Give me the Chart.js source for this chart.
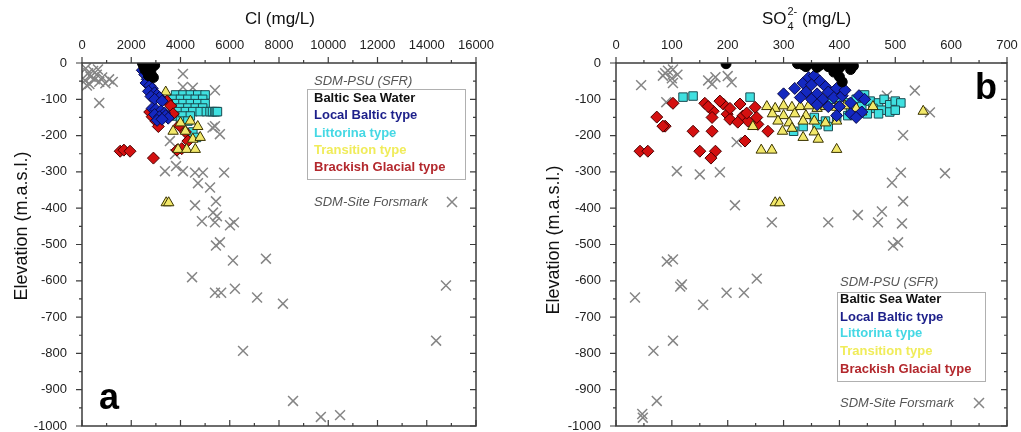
<!DOCTYPE html>
<html>
<head>
<meta charset="utf-8">
<script src="https://cdn.jsdelivr.net/npm/chart.js@4.4.1/dist/chart.umd.min.js"></script>
<style>
    html, body { margin: 0; padding: 0; background: #fff; }
    #wrap { position: relative; width: 1021px; height: 432px; overflow: hidden; }
    .panel { position: absolute; top: 0; height: 432px; }
</style>
</head>
<body>
<div id="wrap">
    <div class="panel" style="left:0;width:510px"><canvas id="chartCl" width="510" height="432"></canvas></div>
    <div class="panel" style="left:510px;width:511px"><canvas id="chartSO4" width="511" height="432"></canvas></div>
</div>
<script>
// ---- Cl (mg/L) vs elevation ----
const clBaltic = [[2450,0],[2600,-2],[2750,-1],[2900,-3],[2950,-6],[2500,-8],[2700,-10],[2850,-12],[2600,-15],[2550,-18],[2750,-20],[2650,-25],[2800,-28],[2700,-35],[2900,-40]];
const clLocal = [[2450,-20],[2550,-32],[2650,-45],[2600,-55],[2750,-62],[2850,-70],[2700,-78],[2950,-82],[3050,-88],[2800,-92],[3150,-95],[2950,-100],[3250,-105],[2850,-125],[3000,-128],[3200,-132],[3350,-138],[2950,-142],[3150,-148],[3400,-145],[3500,-152],[3050,-158],[3250,-155]];
const clLittorina = [[3800,-88],[4100,-88],[4400,-88],[4700,-88],[5000,-88],[3700,-100],[4000,-100],[4300,-100],[4600,-100],[4900,-100],
    [3800,-112],[4100,-112],[4400,-112],[4700,-112],[5000,-112],[3700,-124],[4000,-124],[4300,-124],[4600,-124],[4900,-124],
    [3900,-134],[4200,-134],[4500,-134],[4800,-134],[5050,-134],[5200,-134],[5300,-134],[5400,-134],[5450,-134],[5500,-134],
    [3800,-146],[4100,-146],[4400,-146],[4000,-160],[4300,-160],[4500,-190],[4650,-205]];
const clTransition = [[3400,-80],[3700,-188],[4200,-188],[4500,-210],[4800,-205],[3900,-238],[4250,-238],[4600,-238],[4000,-165],[4400,-160],[4700,-175],[3420,-385],[3520,-385]];
const clBrackish = [[3450,-105],[3600,-118],[2750,-135],[2850,-148],[3000,-160],[3100,-175],[3700,-140],[3950,-172],[4200,-190],[4300,-215],[3860,-240],[4050,-236],[1550,-243],[1700,-240],[1950,-243],[2900,-262]];
const clForsmark = [[150,-15],[250,-28],[350,-38],[450,-22],[520,-45],[600,-32],[700,-52],[300,-58],[820,-40],[950,-56],[120,-48],[1250,-52],[1100,-45],[200,-62],[650,-18],[700,-110],
    [4100,-30],[4100,-66],[4500,-68],[5400,-75],[5400,-174],[5600,-196],[5300,-178],[3570,-215],[3780,-251],[3370,-298],[3820,-284],[4100,-298],[4590,-302],[4910,-302],[5770,-302],
    [4710,-331],[5200,-343],[4590,-392],[5440,-381],[5320,-412],[5480,-422],[4870,-436],[5400,-439],[6010,-447],[6170,-439],[5440,-503],[5600,-494],[6130,-544],[7470,-539],[4470,-590],
    [5400,-633],[5650,-633],[6210,-622],[7110,-646],[8160,-663],[14780,-613],[6540,-793],[14380,-765],[8570,-931],[9700,-975],[10480,-970]];

// ---- SO4 (mg/L) vs elevation ----
const so4Baltic = [[197,-2],[325,-2],[335,-5],[345,-2],[355,-3],[365,-6],[375,-2],[385,-4],[395,-3],[405,-5],[415,-2],[425,-8],[340,-10],[360,-12],[380,-10],[400,-14],[420,-18],[390,-25],[400,-38],[405,-52]];
const so4Local = [[300,-85],[320,-70],[335,-55],[345,-40],[355,-35],[350,-60],[365,-50],[375,-65],[340,-80],[360,-85],[380,-80],[395,-70],[330,-95],[350,-100],[370,-100],[390,-95],[405,-90],[410,-75],[420,-110],[435,-90],[400,-120],[420,-140],[440,-135],[430,-150],[380,-120],[360,-115],[445,-100],[395,-145]];
const so4Littorina = [[120,-94],[138,-91],[240,-94],[385,-100],[400,-95],[415,-110],[430,-100],[440,-120],[455,-105],[470,-110],[480,-100],[490,-115],[500,-105],[510,-110],[460,-125],[475,-130],[490,-135],[500,-130],[450,-140],[470,-140],[430,-135],[415,-145],[395,-150],[375,-160],[355,-150],[335,-175],[318,-188],[360,-170],[380,-175],[420,-125],[445,-88]];
const so4Transition = [[270,-120],[285,-125],[300,-118],[315,-122],[330,-120],[345,-118],[360,-125],[375,-120],[395,-122],[410,-118],[430,-125],[280,-140],[300,-145],[320,-140],[340,-145],[290,-160],[310,-165],[335,-160],[355,-160],[375,-165],[395,-160],[298,-188],[315,-180],[335,-205],[355,-190],[362,-210],[260,-240],[279,-240],[395,-238],[285,-385],[293,-385],[550,-133],[440,-135],[460,-120],[245,-175]];
const so4Brackish = [[102,-111],[73,-149],[88,-174],[138,-188],[172,-188],[150,-243],[178,-243],[170,-262],[43,-243],[57,-243],[159,-111],[174,-133],[172,-150],[192,-113],[199,-141],[222,-113],[227,-146],[236,-160],[249,-122],[254,-169],[272,-188],[231,-215],[186,-105],[204,-155],[218,-163],[234,-138],[204,-125],[252,-150],[84,-174],[165,-120]];
const so4Forsmark = [[45,-61],[84,-35],[93,-21],[102,-18],[100,-42],[102,-55],[88,-28],[110,-32],[178,-39],[172,-58],[200,-36],[207,-53],[165,-48],[90,-108],[485,-90],[535,-76],[562,-136],
    [109,-298],[150,-307],[186,-301],[213,-392],[216,-218],[279,-439],[91,-547],[102,-541],[514,-199],[510,-302],[494,-330],[514,-381],[589,-304],[433,-419],[476,-409],[469,-439],[512,-442],[380,-439],
    [496,-503],[505,-494],[252,-594],[34,-646],[115,-616],[118,-610],[156,-666],[198,-633],[229,-633],[67,-793],[102,-765],[73,-931],[47,-967],[48,-977]];

const clTicks = [0, 16000, 2000];
const so4Ticks = [0, 700, 100];
const elevTicks = [-1000, 0, 100];

const seriesNames = ['Baltic Sea Water', 'Local Baltic type', 'Littorina type', 'Transition type', 'Brackish Glacial type'];
const legendColors = ['#111111', '#1c1f8a', '#45d8e4', '#f0ec5a', '#b3282d'];

const FONT = "'Liberation Sans', Arial, sans-serif";
Chart.defaults.font.family = FONT;
Chart.defaults.color = '#222';

const styles = [
    { pointStyle: 'circle',   radius: 5, bg: '#000000', border: '#000000' },
    { pointStyle: 'rectRot',  radius: 6, bg: '#1428c0', border: '#0a0a4a' },
    { pointStyle: 'rect',     radius: 6, bg: '#3fe0e0', border: '#1a4a50' },
    { pointStyle: 'triangle', radius: 6, bg: '#f2e86a', border: '#3a3300' },
    { pointStyle: 'rectRot',  radius: 6, bg: '#d41010', border: '#4a0000' }
];

function toXY(pts) { return pts.map(p => ({ x: p[0], y: p[1] })); }

function buildDatasets(groups, crosses) {
    const sets = groups.map((pts, i) => ({
        label: seriesNames[i],
        data: toXY(pts),
        pointStyle: styles[i].pointStyle,
        pointRadius: styles[i].radius,
        pointBackgroundColor: styles[i].bg,
        pointBorderColor: styles[i].border,
        pointBorderWidth: 1
    }));
    // order in the array: first entry ends up on top
    const top = [sets[0], sets[1], sets[3], sets[4], sets[2]];
    top.push({
        label: 'SDM-Site Forsmark',
        data: toXY(crosses),
        pointStyle: 'crossRot',
        pointRadius: 7,
        pointBorderColor: '#858585',
        pointBorderWidth: 1.5
    });
    return top;
}

function drawCross(ctx, x, y, r) {
    ctx.beginPath();
    ctx.moveTo(x - r, y - r); ctx.lineTo(x + r, y + r);
    ctx.moveTo(x + r, y - r); ctx.lineTo(x - r, y + r);
    ctx.stroke();
}

// frame, tick marks, titles, legend and panel letter
function makeDecor(cfg) {
    return {
        id: 'decor',
        afterDatasetsDraw(chart) {
            const { ctx, chartArea: ar, scales } = chart;
            const xs = scales.x, ys = scales.y;
            ctx.save();
            ctx.strokeStyle = '#3c3c3c';
            ctx.lineWidth = 1.5;
            ctx.strokeRect(ar.left, ar.top, ar.right - ar.left, ar.bottom - ar.top);

            ctx.lineWidth = 1.2;
            ctx.beginPath();
            const xMinor = cfg.xStep / 2;
            for (let k = 0; xs.min + k * xMinor <= xs.max + 1e-6; k++) {
                const p = xs.getPixelForValue(xs.min + k * xMinor);
                const len = k % 2 === 0 ? 6 : 3;
                ctx.moveTo(p, ar.top); ctx.lineTo(p, ar.top - len);
                ctx.moveTo(p, ar.bottom); ctx.lineTo(p, ar.bottom - len);
            }
            for (let k = 0; ys.min + k * 50 <= ys.max + 1e-6; k++) {
                const p = ys.getPixelForValue(ys.min + k * 50);
                const len = k % 2 === 0 ? 6 : 3;
                ctx.moveTo(ar.left, p); ctx.lineTo(ar.left - len, p);
                ctx.moveTo(ar.right, p); ctx.lineTo(ar.right - len, p);
            }
            ctx.stroke();

            // x title
            ctx.fillStyle = '#111';
            ctx.textBaseline = 'alphabetic';
            if (cfg.sulfate) {
                const big = '17px ' + FONT, small = '11px ' + FONT;
                ctx.font = big;
                const wSO = ctx.measureText('SO').width;
                const wRest = ctx.measureText(' (mg/L)').width;
                ctx.font = small;
                const wSub = ctx.measureText('2-').width;
                let x0 = cfg.titleX - (wSO + wSub + wRest) / 2;
                ctx.font = big; ctx.textAlign = 'left';
                ctx.fillText('SO', x0, 24);
                ctx.font = small;
                ctx.fillText('4', x0 + wSO + 1, 30);
                ctx.fillText('2-', x0 + wSO + 1, 15);
                ctx.font = big;
                ctx.fillText(' (mg/L)', x0 + wSO + wSub + 1, 24);
            } else {
                ctx.font = '17px ' + FONT;
                ctx.textAlign = 'center';
                ctx.fillText('Cl (mg/L)', cfg.titleX, 24);
            }

            // y title
            ctx.save();
            ctx.translate(cfg.yTitleX, cfg.yTitleY);
            ctx.rotate(-Math.PI / 2);
            ctx.font = '18px ' + FONT;
            ctx.textAlign = 'center';
            ctx.textBaseline = 'middle';
            ctx.fillText('Elevation (m.a.s.l.)', 0, 0);
            ctx.restore();

            // legend block
            const L = cfg.legend;
            ctx.font = 'italic 13px ' + FONT;
            ctx.fillStyle = '#555';
            ctx.textAlign = 'left';
            ctx.textBaseline = 'middle';
            ctx.fillText('SDM-PSU (SFR)', L.x, L.headY);
            ctx.fillStyle = '#fff';
            ctx.fillRect(L.boxL, L.boxT, L.boxR - L.boxL, L.boxB - L.boxT);
            ctx.strokeStyle = '#b0b0b0';
            ctx.lineWidth = 1;
            ctx.strokeRect(L.boxL + 0.5, L.boxT + 0.5, L.boxR - L.boxL, L.boxB - L.boxT);
            ctx.font = 'bold 13px ' + FONT;
            seriesNames.forEach((name, i) => {
                ctx.fillStyle = legendColors[i];
                ctx.fillText(name, L.x, L.rows[i]);
            });
            ctx.font = 'italic 13px ' + FONT;
            ctx.fillStyle = '#555';
            ctx.fillText('SDM-Site Forsmark', L.x, L.siteY);
            ctx.strokeStyle = '#858585';
            ctx.lineWidth = 1.5;
            drawCross(ctx, L.crossX, L.siteY, 5);

            // panel letter
            ctx.fillStyle = '#000';
            ctx.font = 'bold 36px ' + FONT;
            ctx.textBaseline = 'alphabetic';
            ctx.fillText(cfg.letter, cfg.letterX, cfg.letterY);
            ctx.restore();
        }
    };
}

function makeChart(id, datasets, xTicks, box, decor) {
    const [xMin, xMax, xStep] = xTicks;
    return new Chart(document.getElementById(id), {
        type: 'scatter',
        data: { datasets: datasets },
        options: {
            responsive: false,
            animation: false,
            layout: { autoPadding: false, padding: { left: 0, top: 0, right: box.padRight, bottom: box.padBottom } },
            plugins: { legend: { display: false }, tooltip: { enabled: false } },
            scales: {
                x: {
                    type: 'linear', position: 'top',
                    min: xMin, max: xMax,
                    grid: { display: false, drawTicks: false },
                    border: { display: false },
                    ticks: { stepSize: xStep, padding: 10, maxRotation: 0, font: { size: 13 }, color: '#222',
                             callback: v => String(v) },
                    afterFit: s => { s.height = box.top; s.paddingLeft = 0; s.paddingRight = 0; }
                },
                y: {
                    type: 'linear', position: 'left',
                    min: elevTicks[0], max: elevTicks[1],
                    grid: { display: false, drawTicks: false },
                    border: { display: false },
                    ticks: { stepSize: elevTicks[2], padding: 15, font: { size: 13 }, color: '#222',
                             callback: v => String(v) },
                    afterFit: s => { s.width = box.left; s.paddingTop = 0; s.paddingBottom = 0; }
                }
            }
        },
        plugins: [makeDecor(Object.assign({ xStep: xStep }, decor))]
    });
}

makeChart('chartCl',
    buildDatasets([clBaltic, clLocal, clLittorina, clTransition, clBrackish], clForsmark),
    clTicks,
    { left: 82, top: 63, padRight: 34, padBottom: 6 },
    {
        titleX: 280, yTitleX: 22, yTitleY: 226, letter: 'a', letterX: 99, letterY: 409,
        legend: { x: 314, headY: 81, boxL: 307, boxT: 89, boxR: 465, boxB: 179,
                  rows: [98, 115, 133, 150, 167], siteY: 202, crossX: 452 }
    });

makeChart('chartSO4',
    buildDatasets([so4Baltic, so4Local, so4Littorina, so4Transition, so4Brackish], so4Forsmark),
    so4Ticks,
    { left: 106, top: 63, padRight: 14, padBottom: 6 },
    {
        sulfate: true, titleX: 296, yTitleX: 44, yTitleY: 240, letter: 'b', letterX: 465, letterY: 99,
        legend: { x: 330, headY: 282, boxL: 327, boxT: 292, boxR: 475, boxB: 381,
                  rows: [299, 317, 333, 351, 369], siteY: 403, crossX: 469 }
    });
</script>
</body>
</html>
